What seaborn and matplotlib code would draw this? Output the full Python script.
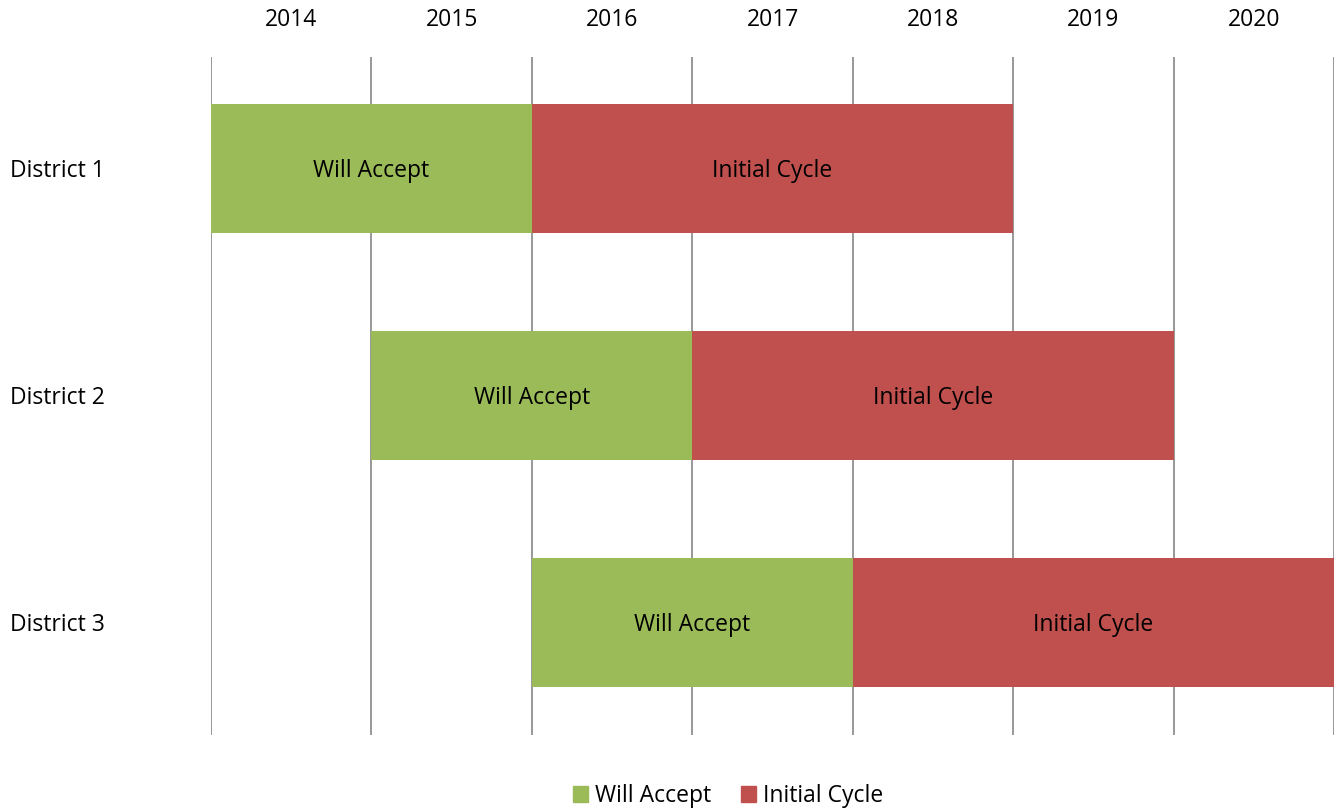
import numpy as np
import pandas as pd
import matplotlib
matplotlib.use('Agg')
import matplotlib.pyplot as plt
import seaborn as sns
from matplotlib.patches import Patch

# ==============================================================================
# Data
# ==============================================================================

districts = ['District 1', 'District 2', 'District 3']
years = ['2014', '2015', '2016', '2017', '2018', '2019', '2020']
accept_start = [0, 1, 2]      # column index where "Will Accept" begins
accept_len = [2, 2, 2]        # years of "Will Accept"
cycle_len = [3, 3, 3]         # years of "Initial Cycle"
phase_names = ['Will Accept', 'Initial Cycle']
phase_colors = ['#9BBB59', '#C0504D']

df = pd.DataFrame({'district': districts, 'start': accept_start,
                   'accept': accept_len, 'cycle': cycle_len})
df['cycle_start'] = df['start'] + df['accept']

# ==============================================================================
# Plot
# ==============================================================================

sns.set_theme(style='white')
plt.rcParams['font.family'] = ['Open Sans', 'DejaVu Sans']
plt.rcParams['text.color'] = 'black'
plt.rcParams['xtick.color'] = 'black'
FS = 16.5

fig = plt.figure(figsize=(13.37, 8.11), dpi=100)
ax = fig.add_axes([211 / 1337, 1 - 735 / 811, 1123 / 1337, 678 / 811])

ypos = np.arange(len(df))
bar_h = 129 / 227

ax.barh(ypos, df['accept'], left=df['start'], height=bar_h,
        color=phase_colors[0], zorder=3, linewidth=0)
ax.barh(ypos, df['cycle'], left=df['cycle_start'], height=bar_h,
        color=phase_colors[1], zorder=3, linewidth=0)

for i, row in df.iterrows():
    ax.text(row['start'] + row['accept'] / 2, i + 0.01, phase_names[0],
            ha='center', va='center', fontsize=FS, color='black', zorder=4)
    ax.text(row['cycle_start'] + row['cycle'] / 2, i + 0.01, phase_names[1],
            ha='center', va='center', fontsize=FS, color='black', zorder=4)

# vertical year separators
for x in range(len(years) + 1):
    ax.axvline(x, color='#868686', linewidth=1.2, zorder=1)

ax.set_xlim(0, len(years))
ax.set_ylim(2.496, -0.491)

ax.xaxis.tick_top()
ax.set_xticks(np.arange(len(years)) + 0.5)
ax.set_xticklabels(years, fontsize=FS)
ax.tick_params(axis='x', length=0, pad=18)
ax.set_yticks(ypos)
ax.set_yticklabels([])
ax.tick_params(axis='y', length=0)
for i, d in enumerate(districts):
    ax.text(10 / 1337, 1 - (171 + 227 * i) / 811, d, transform=fig.transFigure,
            ha='left', va='center', fontsize=FS)

sns.despine(ax=ax, left=True, bottom=True, top=True, right=True)

handles = [Patch(color=c, label=n) for c, n in zip(phase_colors, phase_names)]
fig.legend(handles=handles, loc='center', bbox_to_anchor=(728 / 1337, 1 - 796 / 811),
           ncol=2, frameon=False, fontsize=FS, handlelength=0.65, handleheight=0.65,
           handletextpad=0.3, columnspacing=1.3)

fig.savefig('out.png', dpi=100)
